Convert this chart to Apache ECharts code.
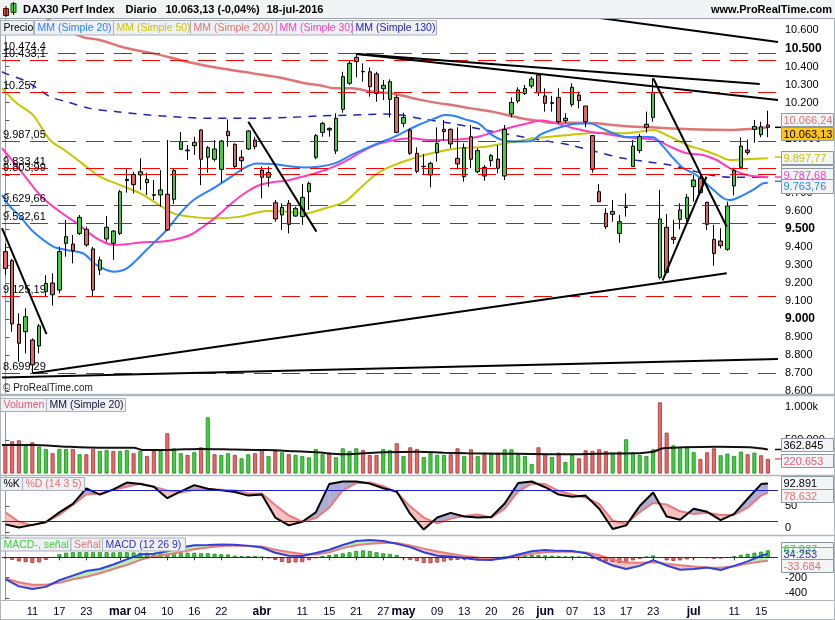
<!DOCTYPE html>
<html>
<head>
<meta charset="utf-8">
<title>DAX30 Perf Index - Diario</title>
<script src="https://cdn.jsdelivr.net/npm/echarts@6/dist/echarts.min.js"></script>
<style>
  html, body { margin: 0; padding: 0; background: #fff; }
  #chart { width: 835px; height: 620px; }
</style>
</head>
<body>
<div id="chart"></div>
<script>
// sesiones de Xetra, feb - jul 2016
var febDays = [5, 8, 9, 10, 11, 12, 15, 16, 17, 18, 19, 22, 23, 24, 25, 26, 29];
var marDays = [1, 2, 3, 4, 7, 8, 9, 10, 11, 14, 15, 16, 17, 18, 21, 22, 23, 24, 29, 30, 31];
var aprDays = [1, 4, 5, 6, 7, 8, 11, 12, 13, 14, 15, 18, 19, 20, 21, 22, 25, 26, 27, 28, 29];
var mayDays = [2, 3, 4, 5, 6, 9, 10, 11, 12, 13, 17, 18, 19, 20, 23, 24, 25, 26, 27, 30, 31];
var junDays = [1, 2, 3, 6, 7, 8, 9, 10, 13, 14, 15, 16, 17, 20, 21, 22, 23, 24, 27, 28, 29, 30];
var julDays = [1, 4, 5, 6, 7, 8, 11, 12, 13, 14, 15, 18];
var monthNames = ['feb', 'mar', 'abr', 'may', 'jun', 'jul'];

// fechas con etiqueta en el eje x
var tickDays = ['feb-11', 'feb-17', 'feb-23', 'mar-1', 'mar-4', 'mar-10', 'mar-16', 'mar-22',
  'abr-1', 'abr-11', 'abr-15', 'abr-21', 'abr-27', 'may-2', 'may-9', 'may-13', 'may-20', 'may-26',
  'jun-1', 'jun-7', 'jun-13', 'jun-17', 'jun-23', 'jul-1', 'jul-11', 'jul-15'];

// precio: [apertura, cierre, minimo, maximo]
var ohlc = [
  [9374, 9281, 9244, 9420], [9324, 8973, 8930, 9333], [8971, 8866, 8764, 9032], [8930, 9013, 8810, 9060],
  [8884, 8746, 8699, 8893], [8851, 8962, 8810, 8973], [9152, 9198, 9124, 9244], [9200, 9135, 9075, 9254],
  [9161, 9374, 9143, 9401], [9420, 9457, 9346, 9549], [9416, 9379, 9309, 9466], [9475, 9564, 9466, 9577],
  [9498, 9411, 9401, 9512], [9389, 9161, 9125, 9401], [9272, 9328, 9244, 9346], [9444, 9509, 9429, 9571],
  [9420, 9488, 9328, 9494], [9475, 9706, 9466, 9716], [9768, 9775, 9701, 9830], [9801, 9745, 9697, 9817],
  [9799, 9817, 9716, 9891], [9756, 9775, 9688, 9812], [9686, 9690, 9660, 9771], [9688, 9716, 9623, 9826],
  [9692, 9494, 9490, 9993], [9664, 9823, 9638, 9836], [9941, 9983, 9937, 10037], [9937, 9933, 9882, 9965],
  [9961, 9980, 9910, 10011], [10048, 9886, 9743, 10052], [9897, 9950, 9812, 9959], [9886, 9943, 9873, 9993],
  [9830, 9987, 9756, 9993], [10041, 10017, 9956, 10107], [9969, 9845, 9836, 9974], [9897, 9878, 9817, 9937],
  [9943, 10043, 9937, 10048], [9993, 9956, 9941, 10011], [9826, 9786, 9669, 9845], [9786, 9813, 9734, 9845],
  [9645, 9555, 9540, 9660], [9577, 9619, 9494, 9642], [9642, 9525, 9475, 9660], [9571, 9614, 9568, 9623],
  [9568, 9675, 9522, 9749], [9706, 9752, 9605, 9762], [9897, 10017, 9886, 10026], [10035, 10085, 10011, 10094],
  [10057, 10048, 10011, 10063], [9932, 10113, 9915, 10141], [10163, 10344, 10144, 10371], [10307, 10418, 10298, 10436],
  [10451, 10427, 10340, 10474], [10371, 10373, 10316, 10418], [10371, 10288, 10233, 10395], [10359, 10251, 10205, 10371],
  [10277, 10296, 10214, 10325], [10218, 10316, 10118, 10329], [10229, 10035, 10030, 10242], [10085, 10118, 10063, 10144],
  [10048, 9919, 9910, 10057], [9919, 9819, 9808, 9952], [9845, 9847, 9801, 9915], [9799, 9863, 9730, 9873],
  [9922, 9974, 9873, 10063], [10052, 10039, 9989, 10104], [10052, 9971, 9947, 10057], [9891, 9860, 9830, 10063],
  [9789, 9950, 9762, 9974], [10011, 9886, 9836, 10076], [9817, 9934, 9808, 9947], [9841, 9793, 9767, 9854],
  [9878, 9906, 9845, 9915], [9887, 9836, 9808, 9965], [9793, 10052, 9771, 10076], [10137, 10201, 10118, 10229],
  [10209, 10270, 10196, 10285], [10251, 10279, 10242, 10298], [10292, 10331, 10279, 10344], [10353, 10255, 10237, 10362],
  [10237, 10196, 10150, 10279], [10196, 10200, 10150, 10237], [10229, 10094, 10085, 10279], [10100, 10113, 10085, 10141],
  [10190, 10285, 10177, 10307], [10242, 10211, 10168, 10261], [10181, 10094, 10063, 10181], [10017, 9830, 9812, 10020],
  [9706, 9651, 9651, 9749], [9586, 9512, 9499, 9614], [9581, 9597, 9540, 9660], [9475, 9540, 9424, 9577],
  [9619, 9622, 9568, 9697], [9845, 9959, 9845, 9993], [9934, 10011, 9919, 10026], [10080, 10063, 10033, 10150],
  [10118, 10257, 10094, 10335], [9231, 9555, 9220, 9716], [9509, 9259, 9254, 9582], [9453, 9442, 9416, 9549],
  [9553, 9605, 9498, 9642], [9559, 9675, 9540, 9693], [9734, 9771, 9651, 9799], [9780, 9701, 9697, 9799],
  [9647, 9525, 9494, 9651], [9442, 9364, 9296, 9522], [9433, 9407, 9392, 9503], [9387, 9627, 9379, 9651],
  [9738, 9823, 9686, 9839], [9841, 9959, 9830, 10007], [9937, 9924, 9910, 9996], [10052, 10068, 9978, 10104],
  [10022, 10066, 10008, 10094], [10076, 10063, 10008, 10155]
];

// medias moviles: [sesion, valor]
var sma20 = [[-0.5, 9688], [0.7, 9623], [2.2, 9568], [4.1, 9485], [7.1, 9402], [9.1, 9383], [11.5, 9365],
  [13.5, 9300], [16, 9263], [18, 9281], [20.9, 9383], [23.9, 9494], [25.9, 9586], [27.9, 9660], [30.8, 9725],
  [33.5, 9790], [35.3, 9836], [37.2, 9863], [39.7, 9860], [42.7, 9845], [44.4, 9841], [46.4, 9845], [48.8, 9863],
  [51.3, 9910], [54.3, 9960], [57.7, 10011], [61.2, 10076], [63.7, 10113], [65.1, 10131], [66.6, 10126],
  [68.1, 10107], [70.1, 10085], [72.1, 10021], [73.6, 9993], [76, 9984], [78, 9987], [79.2, 10021], [81.7, 10058],
  [84.2, 10082], [86.6, 10085], [88.1, 10063], [90.1, 10030], [92.1, 10008], [94, 10011], [96, 10008],
  [97.5, 9956], [99, 9891], [100.5, 9836], [102.4, 9799], [104.4, 9734], [106.4, 9670], [107.4, 9660],
  [108.9, 9679], [110.8, 9716], [112.3, 9753], [113, 9756]];
var sma50 = [[-0.5, 10280], [1.7, 10196], [4.1, 10131], [6.6, 9993], [9.1, 9928], [12, 9845], [14, 9790],
  [17, 9743], [20, 9697], [22.4, 9642], [24.9, 9586], [27.4, 9568], [30.8, 9559], [34.8, 9568], [38.7, 9599],
  [41.4, 9596], [44.4, 9586], [47.4, 9614], [50.3, 9651], [52.3, 9716], [54.8, 9799], [57.3, 9849], [61.2, 9900],
  [64.2, 9928], [67.1, 9947], [71.1, 9956], [74, 9974], [77, 9993], [79.3, 10006], [80.7, 10011], [83.7, 10021],
  [86.2, 10030], [88.6, 10033], [91.6, 10030], [94, 10039], [96, 10048], [98.5, 10011], [101, 9965],
  [103.4, 9937], [105.4, 9910], [107.4, 9882], [109.9, 9886], [113, 9891]];
var sma200 = [[5, 10700], [8, 10620], [11.5, 10563], [14, 10547], [18, 10501], [21.9, 10473], [26.9, 10427],
  [31.8, 10390], [36.7, 10362], [41.2, 10335], [44.4, 10307], [46.4, 10298], [48.8, 10279], [51.3, 10279],
  [54.3, 10261], [57.7, 10248], [61.2, 10218], [63.7, 10200], [66.1, 10187], [69.1, 10168], [72.1, 10150],
  [75, 10126], [77, 10109], [79.3, 10098], [80.7, 10089], [84.2, 10089], [87.6, 10085], [91.6, 10070],
  [95.5, 10063], [101.5, 10052], [107.4, 10048], [113, 10063]];
var sma30 = [[-0.5, 9947], [2.2, 9826], [4.1, 9734], [5.6, 9670], [8.1, 9595], [10.6, 9531], [12.5, 9475],
  [14, 9438], [16, 9411], [18, 9415], [20, 9425], [22.9, 9429], [25, 9440], [27.4, 9466], [29.3, 9512],
  [31.3, 9568], [33.8, 9651], [35.8, 9706], [37.7, 9743], [40.2, 9762], [41.4, 9766], [43.7, 9786], [44.4, 9793],
  [47.4, 9826], [50.3, 9873], [52.8, 9928], [55.3, 9971], [57.7, 9993], [60.2, 10002], [62.7, 9993],
  [65.1, 9993], [67.6, 9997], [70.1, 10011], [72.6, 10039], [75, 10063], [77, 10081], [79.5, 10101],
  [81.7, 10085], [84.2, 10058], [86.6, 10039], [89.1, 10026], [91.6, 10011], [94, 10002], [96.5, 9993],
  [98.5, 9956], [101, 9919], [103.4, 9910], [105.4, 9882], [107.4, 9836], [109.9, 9799], [113, 9786]];
var sma130 = [[-0.5, 10372], [0, 10362], [3.2, 10316], [6.6, 10233], [9.1, 10205], [12.5, 10168], [16.5, 10150],
  [21.4, 10131], [26.4, 10118], [31.3, 10113], [36.3, 10113], [42.2, 10118], [46.4, 10126], [51.3, 10131],
  [56.3, 10137], [58.7, 10131], [62.2, 10107], [66.1, 10085], [69.1, 10063], [73.6, 10030], [77, 10008],
  [79.3, 9993], [80.7, 9984], [83.7, 9965], [87.6, 9928], [91.6, 9891], [95, 9873], [98.5, 9854],
  [101.5, 9826], [104.4, 9799], [107.4, 9786], [113, 9786]];

// lineas de tendencia: [[sesion, precio], [sesion, precio]]
var trendLines = [
  [[88.1, 10669], [114.5, 10536]],
  [[52.1, 10470], [111.8, 10303]],
  [[52.1, 10470], [114.5, 10215]],
  [[36.0, 10094], [46.1, 9485]],
  [[-0.5, 9504], [6.1, 8917]],
  [[-0.5, 8676], [114.5, 8779]],
  [[4.1, 8700], [106.9, 9254]],
  [[96.0, 10335], [106.9, 9512]],
  [[97.4, 9215], [103.9, 9789]]
];

// niveles horizontales
var levels = [10474.4, 10433.1, 10257, 9987.05, 9833.41, 9803.99, 9629.66, 9532.61, 9125.19, 8699.29];
var levelLabels = ['10.474,4', '10.433,1', '10.257', '9.987,05', '9.833,41', '9.803,99', '9.629,66',
  '9.532,61', '9.125,19', '8.699,29'];

// volumen
var volumes = [441000, 486000, 501000, 420000, 471000, 405000, 370000, 305000, 370000, 370000,
  370000, 290000, 290000, 370000, 340000, 355000, 340000, 340000, 355000, 305000,
  340000, 264000, 340000, 340000, 607000, 380000, 305000, 280000, 320000, 395000,
  848000, 290000, 280000, 305000, 280000, 229000, 290000, 305000, 365000, 264000,
  340000, 320000, 290000, 280000, 264000, 244000, 370000, 290000, 315000, 244000,
  380000, 340000, 380000, 355000, 280000, 280000, 370000, 355000, 456000, 264000,
  395000, 370000, 249000, 305000, 280000, 280000, 290000, 380000, 264000, 365000,
  264000, 315000, 315000, 315000, 365000, 365000, 280000, 264000, 144000, 395000,
  290000, 249000, 315000, 174000, 280000, 229000, 350000, 340000, 365000, 340000,
  315000, 330000, 516000, 315000, 280000, 264000, 365000, 1075000, 617000, 425000,
  380000, 395000, 320000, 219000, 320000, 380000, 275000, 300000, 264000, 330000,
  290000, 315000, 275000, 221000];
var volMa20 = [[-0.5, 431000], [4.1, 431000], [9.1, 405000], [14, 390000], [19, 390000], [20.4, 355000],
  [25, 360000], [28.8, 370000], [34, 362000], [38.7, 355000], [43, 335000], [46.1, 320000], [50.1, 290000],
  [53, 305000], [56, 320000], [61, 330000], [65, 315000], [68.4, 305000], [73, 300000], [78, 295000],
  [83.2, 290000], [88, 300000], [93.1, 305000], [96, 330000], [97.5, 380000], [100.5, 395000],
  [105.4, 405000], [110.3, 395000], [113, 363000]];

// estocastico y MACD, leidos cada dos sesiones
var oscX = [];
for (var k = 0; k <= 112; k += 2) oscX.push(k);
oscX.push(113);
var stochK = [15, 9, 14, 19, 38, 54, 84, 72, 82, 95, 92, 87, 65, 78, 90, 83, 80, 77, 70, 72,
  28, 13, 20, 38, 92, 97, 97, 93, 84, 78, 35, 5, 28, 37, 30, 28, 29, 55, 94, 97,
  86, 72, 68, 70, 45, 6, 13, 50, 76, 30, 24, 45, 39, 23, 35, 64, 92, 93];
var stochD = [38, 20, 13, 20, 33, 52, 72, 74, 81, 87, 93, 87, 80, 76, 81, 82, 81, 80, 74, 74,
  52, 32, 20, 27, 47, 80, 94, 95, 88, 76, 49, 28, 17, 26, 31, 34, 28, 45, 78, 93,
  92, 79, 72, 66, 54, 22, 16, 38, 56, 53, 40, 35, 37, 33, 33, 47, 70, 76];
var macdLine = [-215, -285, -311, -290, -225, -180, -135, -115, -70, -20, 29, 36, 60, 95, 118, 121, 126, 124, 112, 96,
  45, 16, 13, 42, 74, 120, 160, 170, 160, 132, 100, 50, 15, 7, -8, -24, -27, -7, 27, 60,
  72, 63, 62, 40, -22, -80, -115, -84, -28, -80, -122, -115, -101, -124, -84, -40, 15, 34];
var macdSignal = [-208, -245, -270, -268, -250, -215, -190, -157, -115, -75, -25, 10, 25, 52, 78, 97, 110, 115, 113, 106,
  75, 52, 32, 28, 50, 90, 118, 132, 140, 140, 115, 85, 57, 35, 14, -2, -16, -10, 10, 35,
  49, 55, 55, 48, 20, -22, -52, -53, -49, -62, -78, -90, -100, -102, -88, -62, -42, -34];
var macdHist = [-10, -25, -40, -48, -55, -50, -25, -3, 30, 45, 50, 50, 50, 50, 50, 50, 48, 50, 50, 48,
  45, 45, 42, 38, 35, 40, 45, 45, 45, 40, 40, 35, 30, 28, 15, 12, 12, 12, 3, -10,
  -26, -45, -55, -50, -48, -28, -8, 13, 23, 29, 39, 49, 62, 68, 62, 49, 39, 33, 23, -10,
  -26, -36, -55, -58, -52, -42, -30, -25, -22, -20, -15, -8, -5, -3, 5, 10, 18, 22, 25, 22,
  18, 15, 10, 8, 8, 5, 2, -15, -30, -40, -45, -55, -45, -30, -15, 5, 18, -5, -30, -35,
  -30, -20, -10, -5, -8, -15, -12, -5, 10, 25, 35, 45, 55, 68];

// etiquetas de los ejes de la derecha
var priceTicks = [8600, 8700, 8800, 8900, 9000, 9100, 9200, 9300, 9400, 9500, 9600, 9700, 9800, 9900,
  10000, 10100, 10200, 10300, 10400, 10500, 10600];
var volumeTicks = [500000, 1000000];
var stochTicks = [0, 50, 100];
var macdTicks = [-400, -200, 0, 200];

var FONT = "'Liberation Sans', Arial, sans-serif";
var GREEN = '#44cc44', RED = '#e06666';

var categories = [];
[febDays, marDays, aprDays, mayDays, junDays, julDays].forEach(function (days, m) {
  days.forEach(function (d) { categories.push(monthNames[m] + '-' + d); });
});
categories.push('');
var firstOfMonth = {};
[febDays, marDays, aprDays, mayDays, junDays, julDays].forEach(function (days, m) {
  if (m > 0) firstOfMonth[monthNames[m] + '-' + days[0]] = monthNames[m];
});
var tickSet = {};
tickDays.forEach(function (d) { tickSet[d] = true; });

function thousands(n) {
  var s = String(Math.abs(Math.round(n))).replace(/\B(?=(\d{3})+(?!\d))/g, '.');
  return (n < 0 ? '-' : '') + s;
}

var closes = ohlc.map(function (c) { return c[1]; });

function lineSeries(data, color, width, xi, yi, extra) {
  var s = {
    type: 'line', xAxisIndex: xi, yAxisIndex: yi, data: data, symbol: 'none',
    silent: true, lineStyle: { color: color, width: width }, z: 2
  };
  for (var key in extra) s[key] = extra[key];
  return s;
}

// relleno entre dos curvas, color segun cual queda arriba
function fillBetween(xs, a, b, upColor, downColor, xi, yi) {
  return {
    type: 'custom', xAxisIndex: xi, yAxisIndex: yi, silent: true, z: 1, clip: true,
    data: xs.slice(0, -1).map(function (x, j) { return [x, a[j]]; }),
    renderItem: function (params, api) {
      var j = params.dataIndex;
      var p = function (x, y) { return api.coord([x, y]); };
      var x0 = xs[j], x1 = xs[j + 1];
      var d0 = a[j] - b[j], d1 = a[j + 1] - b[j + 1];
      var parts = [];
      if (d0 * d1 >= 0) {
        parts.push([[p(x0, a[j]), p(x1, a[j + 1]), p(x1, b[j + 1]), p(x0, b[j])], d0 + d1 >= 0]);
      } else {
        var t = d0 / (d0 - d1);
        var xc = x0 + t * (x1 - x0), yc = a[j] + t * (a[j + 1] - a[j]);
        parts.push([[p(x0, a[j]), p(xc, yc), p(x0, b[j])], d0 > 0]);
        parts.push([[p(xc, yc), p(x1, a[j + 1]), p(x1, b[j + 1])], d1 > 0]);
      }
      return {
        type: 'group',
        children: parts.map(function (q) {
          return { type: 'polygon', shape: { points: q[0] }, style: { fill: q[1] ? upColor : downColor } };
        })
      };
    }
  };
}

function yAxisRight(grid, min, max, labels, ticks, fmt, rich) {
  return {
    type: 'value', gridIndex: grid, position: 'right', min: min, max: max,
    splitLine: { show: false },
    axisLine: { show: true, lineStyle: { color: '#8c97a2', width: 1 } },
    axisTick: { show: true, inside: false, length: 4, lineStyle: { color: '#555' }, customValues: ticks },
    axisLabel: {
      show: true, margin: 7, fontSize: 11, color: '#000', fontFamily: FONT,
      customValues: labels, formatter: fmt, rich: rich || {}
    }
  };
}

function hiddenValueX(grid) {
  return { type: 'value', gridIndex: grid, min: -0.5, max: 114.5, show: false };
}

function hiddenCategoryX(grid) {
  return { type: 'category', gridIndex: grid, data: categories, boundaryGap: true, show: false };
}

var chart = echarts.init(document.getElementById('chart'));

var option = {
  animation: false,
  backgroundColor: '#fff',
  textStyle: { fontFamily: FONT },
  grid: [
    { left: 2, right: 57, top: 19, height: 374 },
    { left: 2, right: 57, top: 398, height: 75.5 },
    { left: 2, right: 57, top: 476, height: 58 },
    { left: 2, right: 57, top: 536, height: 64 }
  ],
  xAxis: [
    hiddenCategoryX(0),
    hiddenValueX(0),
    hiddenCategoryX(1),
    hiddenValueX(1),
    hiddenValueX(2),
    {
      type: 'category', gridIndex: 3, data: categories, boundaryGap: true,
      axisLine: { show: false },
      axisTick: {
        show: true, alignWithLabel: true, length: 3, lineStyle: { color: '#333' },
        interval: function (i, v) { return !!tickSet[v]; }
      },
      axisLabel: {
        margin: 6, fontSize: 11, color: '#000022', fontFamily: FONT,
        interval: function (i, v) { return !!tickSet[v]; },
        formatter: function (v) {
          if (firstOfMonth[v]) return '{m|' + firstOfMonth[v] + '}';
          var d = v.split('-')[1];
          return d.length < 2 ? '0' + d : d;
        },
        rich: { m: { fontWeight: 'bold', fontSize: 12, color: '#000022' } }
      }
    },
    hiddenValueX(3)
  ],
  yAxis: [
    yAxisRight(0, 8590.3, 10663.5, priceTicks, priceTicks, function (v) {
      return v % 500 === 0 ? '{b|' + thousands(v) + '}' : thousands(v);
    }, { b: { fontWeight: 'bold', fontSize: 12, color: '#000' } }),
    yAxisRight(1, 0, 1140500, volumeTicks, volumeTicks, function (v) {
      return v === 1000000 ? '1.000k' : thousands(v);
    }),
    yAxisRight(2, -3.44, 107.5, stochTicks, stochTicks, function (v) {
      return v === 0 ? '{lo|0}' : String(v);
    }, { lo: { padding: [0, 0, 8, 0] } }),
    yAxisRight(3, -418.6, 208.8, [-400, -200, 0], macdTicks, function (v) {
      return v === -400 ? '{lo|-400}' : String(v);
    }, { lo: { padding: [0, 0, 10, 0] } })
  ],
  series: []
};

var S = option.series;

S.push({
  type: 'candlestick', xAxisIndex: 0, yAxisIndex: 0, data: ohlc, barWidth: 4, z: 3, silent: true,
  itemStyle: { color: GREEN, color0: RED, borderColor: '#000', borderColor0: '#000', borderWidth: 1 },
  markLine: {
    silent: true, symbol: 'none', animation: false,
    lineStyle: { color: '#ff0000', width: 1, type: [18, 10] },
    label: { position: 'insideStartTop', color: '#000', fontSize: 11, fontFamily: FONT, distance: [1, 1] },
    data: levels.map(function (v, k) {
      return { yAxis: v, label: { formatter: levelLabels[k] } };
    })
  }
});

S.push(lineSeries(sma200, '#e07474', 2.5, 1, 0, { smooth: 0.3 }));
S.push(lineSeries(sma130, '#2323b8', 1.5, 1, 0, { smooth: 0.3, lineStyle: { color: '#2323b8', width: 1.5, type: [8, 7] } }));
S.push(lineSeries(sma50, '#c9c500', 2, 1, 0, { smooth: 0.3 }));
S.push(lineSeries(sma30, '#ff3cc0', 2, 1, 0, { smooth: 0.3 }));
S.push(lineSeries(sma20, '#2a82ff', 2, 1, 0, { smooth: 0.3 }));

trendLines.forEach(function (seg) {
  S.push(lineSeries(seg, '#000', 2, 1, 0, { z: 5 }));
});

S.push({
  type: 'bar', xAxisIndex: 2, yAxisIndex: 1, barWidth: 4, silent: true,
  data: volumes.map(function (v, i) {
    var up = i > 0 && closes[i] >= closes[i - 1];
    return {
      value: v,
      itemStyle: up ? { color: '#3fcf3f', borderColor: '#1d8a1d', borderWidth: 0.8 }
                    : { color: '#e46a6a', borderColor: '#a83434', borderWidth: 0.8 }
    };
  })
});
S.push(lineSeries(volMa20, '#111', 2, 3, 1, { smooth: 0.3, z: 4 }));

S.push(fillBetween(oscX, stochK, stochD, '#adadd6', '#f4c0c0', 4, 2));
S.push(lineSeries(oscX.map(function (x, j) { return [x, stochD[j]]; }), '#e87c7c', 2, 4, 2, {
  z: 3,
  markLine: {
    silent: true, symbol: 'none', label: { show: false },
    lineStyle: { color: '#1f1fcf', width: 1, type: 'solid' },
    data: [{ yAxis: 80 }, { yAxis: 20 }]
  }
}));
S.push(lineSeries(oscX.map(function (x, j) { return [x, stochK[j]]; }), '#000', 2, 4, 2, { z: 4 }));

S.push(fillBetween(oscX, macdLine, macdSignal, '#b6f0ae', '#f4c2c2', 6, 3));
S.push({
  type: 'bar', xAxisIndex: 5, yAxisIndex: 3, barWidth: 4, silent: true, z: 2,
  data: macdHist.map(function (v) {
    return {
      value: v,
      itemStyle: v >= 0 ? { color: '#3fcf3f', borderColor: '#1d8a1d', borderWidth: 0.8 }
                        : { color: '#e46a6a', borderColor: '#a83434', borderWidth: 0.8 }
    };
  })
});
S.push(lineSeries(oscX.map(function (x, j) { return [x, macdSignal[j]]; }), '#e87c7c', 2, 6, 3, {
  z: 3,
  markLine: {
    silent: true, symbol: 'none', label: { show: false },
    lineStyle: { color: '#1f1fcf', width: 1, type: 'solid' },
    data: [{ yAxis: 0 }]
  }
}));
S.push(lineSeries(oscX.map(function (x, j) { return [x, macdLine[j]]; }), '#3340dd', 2, 6, 3, { z: 4 }));

chart.setOption(option);

// ---- elementos fijos: cabecera, leyendas, marcos y etiquetas de valor ----
var g = [];
function rect(x, y, w, h, fill, stroke, z) {
  g.push({ type: 'rect', shape: { x: x, y: y, width: w, height: h },
    style: { fill: fill, stroke: stroke || null, lineWidth: 1 }, z: z || 100, silent: true });
}
function text(x, y, str, color, font, align, z) {
  g.push({ type: 'text', x: x, y: y, silent: true, z: z || 112,
    style: { text: str, fill: color, font: font || ('11px ' + FONT),
      textAlign: align || 'left', align: align || 'left',
      textVerticalAlign: 'middle', verticalAlign: 'middle' } });
}
function hline(y, x1, x2, color, w) {
  g.push({ type: 'line', shape: { x1: x1, y1: y, x2: x2, y2: y },
    style: { stroke: color, lineWidth: w || 1 }, z: 105, silent: true });
}
function vline(x, y1, y2, color, w) {
  g.push({ type: 'line', shape: { x1: x, y1: y1, x2: x, y2: y2 },
    style: { stroke: color, lineWidth: w || 1 }, z: 105, silent: true });
}
function legend(x, y, w, h, str, color) {
  rect(x + 0.5, y + 0.5, w, h, '#eef0f3', '#a9b1ba', 110);
  text(x + 3.5, y + h / 2 + 1, str, color, '10.5px ' + FONT, 'left', 111);
}
function tag(y, str, color, fill, h) {
  h = h || 13;
  rect(781.5, Math.round(y - h / 2) + 0.5, 52, h, fill || '#f3f4f6', '#8d98a3', 120);
  text(783.5, Math.round(y - h / 2) + h / 2 + 1, str, color, '11px ' + FONT, 'left', 121);
}
function mark(y, color) {
  hline(y, 775, 781, color, 1.5);
}

// cabecera
rect(0, 0, 835, 18, '#f2f3f4', null, 100);
hline(18.5, 0, 835, '#9aa3ac', 1);
vline(6, 6, 17, '#000', 1);
rect(3.5, 8.5, 5, 7, '#e05555', '#600', 101);
vline(13.5, 2, 15, '#000', 1);
rect(11, 3.5, 5, 9, '#3fcf3f', '#060', 101);
var HF = 'bold 11px ' + FONT;
text(23, 10, 'DAX30 Perf Index', '#000', HF);
text(125.5, 10, 'Diario', '#000', HF);
text(165.5, 10, '10.063,13 (-0,04%)', '#000', HF);
text(266.5, 10, '18-jul-2016', '#000', HF);
text(832, 10, 'www.ProRealTime.com', '#000', HF, 'right');

// leyendas
legend(0, 20, 33, 14.5, 'Precio', '#000');
legend(34, 20, 79, 14.5, 'MM (Simple 20)', '#2a82ff');
legend(113, 20, 77, 14.5, 'MM (Simple 50)', '#c9c500');
legend(190, 20, 86, 14.5, 'MM (Simple 200)', '#e07474');
legend(276, 20, 76, 14.5, 'MM (Simple 30)', '#ff3cc0');
legend(352, 20, 84, 14.5, 'MM (Simple 130)', '#2323b8');
legend(0, 398, 46, 13, 'Volumen', '#e0607a');
legend(46, 398, 79, 13, 'MM (Simple 20)', '#111133');
legend(0, 477, 22, 13, '%K', '#000');
legend(22, 477, 62, 13, '%D (14 3 5)', '#e07474');
legend(0, 537.5, 70.5, 13, 'MACD-, se\u00f1al', '#3fcf3f');
legend(70.5, 537.5, 31.5, 13, 'Se\u00f1al', '#e07474');
legend(102, 537.5, 83, 13, 'MACD (12 26 9)', '#3333bb');
text(3, 388, '\u00a9 ProRealTime.com', '#222', '10px ' + FONT);

// marcos de los paneles
hline(395, 0, 835, '#aeb6be', 2.5);
hline(475.5, 0, 835, '#aeb6be', 1.5);
hline(535.5, 0, 835, '#aeb6be', 1.5);
hline(600.5, 0, 835, '#aeb6be', 1);
hline(619.5, 0, 835, '#aeb6be', 1);
vline(0.5, 18, 620, '#aeb6be', 1);
vline(834.5, 18, 620, '#aeb6be', 1);

// etiquetas de valor en el eje derecho
function py(idx, v) { return chart.convertToPixel({ yAxisIndex: idx }, v); }
var last = ohlc[ohlc.length - 1];
mark(py(0, last[1]), '#000');
mark(py(0, 9897.77), '#c9c500');
mark(py(0, 9787.68), '#ff3cc0');
mark(py(0, 9763.76), '#2a82ff');
tag(py(0, 10066.24) - 7, '10.066,24', '#e07474');
tag(py(0, last[1]) + 6, '10.063,13', '#000', '#ffc61a');
tag(py(0, 9897.77), '9.897,77', '#c9c500');
tag(py(0, 9786.12) - 6, '', '#2323b8');
tag(py(0, 9787.68) - 1.5, '9.787,68', '#ff3cc0', null, 14);
tag(py(0, 9763.76) + 5, '9.763,76', '#2a82ff', null, 14);

mark(py(1, 362845), '#000');
mark(py(1, 220653), '#e46a6a');
tag(py(1, 362845) - 5, '362.845', '#000');
tag(py(1, 220653) + 1.5, '220.653', '#e0607a');

tag(py(2, 92.891) - 1.5, '92.891', '#000');
tag(py(2, 78.632) + 4.5, '78.632', '#e07474');

tag(py(3, 67.937) - 2, '67.937', '#3fcf3f');
tag(py(3, 34.253), '34.253', '#3333bb');
tag(py(3, -33.684) + 4.5, '-33.684', '#e07474');

chart.setOption({ graphic: { elements: g } });
</script>
</body>
</html>
